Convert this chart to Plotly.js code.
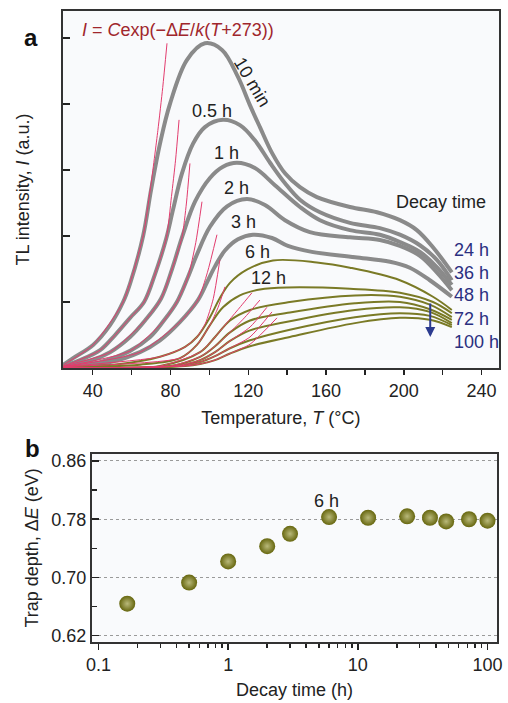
<!DOCTYPE html>
<html><head><meta charset="utf-8">
<script src="https://cdn.plot.ly/plotly-3.0.1.min.js"></script>
<style>html,body{margin:0;padding:0;background:#fff;} #chart{width:508px;height:703px;}</style>
</head><body><div id="chart"></div>
<script>
// ---------- Panel a: TL glow curves (temperature °C, intensity a.u.) ----------
const decayLabels = ['10 min','0.5 h','1 h','2 h','3 h','6 h','12 h','24 h','36 h','48 h','72 h','100 h'];

const temp_10min = [25,29.9,40.2,48.9,55.6,59.2,65.9,70,74.6,79.7,88.5,97.7,106.5,114.7,120.9,126,132.2,138.9,146.6,155.3,172.3,186.2,198,206.7,215,224.7];
const int_10min  = [0.05,0.15,0.35,0.65,1.0,1.28,2.0,2.7,3.4,4.0,4.67,4.92,4.82,4.41,3.98,3.65,3.26,2.95,2.74,2.59,2.44,2.36,2.24,2.09,1.83,1.45];
const temp_05h = [25,33.5,43.8,51.5,59.2,66.4,72,77.7,81.3,85.9,91.6,97.7,107,115.7,123.4,131.2,138.9,146.6,156.9,172.3,187.7,198,208.3,217,224.7];
const int_05h  = [0.03,0.12,0.27,0.5,0.76,1.0,1.42,1.95,2.4,2.95,3.4,3.65,3.76,3.68,3.45,3.11,2.8,2.55,2.36,2.2,2.12,2.02,1.86,1.64,1.33];
const temp_1h = [25,38.6,48.9,59.2,66.9,75.1,80.8,85.9,92.6,100.3,107,114.2,123.4,133.7,146.6,156.9,172.3,187.7,198,208.3,217,224.7];
const int_1h  = [0.03,0.11,0.24,0.47,0.72,1.05,1.5,1.98,2.52,2.88,3.05,3.11,3.03,2.77,2.44,2.24,2.09,2.02,1.91,1.76,1.53,1.26];
const temp_2h = [25,43.8,59.2,69.5,76.1,83.3,89,93.6,100.3,109.1,119.3,128.6,138.9,151.7,172.3,187.7,198,208.3,217,224.7];
const int_2h  = [0.02,0.09,0.26,0.47,0.7,1.0,1.38,1.72,2.14,2.45,2.56,2.47,2.24,2.06,1.98,1.94,1.85,1.7,1.45,1.18];
const temp_3h = [25,48.9,64.3,74.6,84.9,94.1,98.8,102.9,108,114.7,122.4,132.2,140.4,152.7,174.9,192.9,203.1,213.4,224.7];
const int_3h  = [0.02,0.09,0.24,0.42,0.7,1.03,1.3,1.54,1.78,1.95,2.02,1.97,1.85,1.76,1.68,1.61,1.52,1.33,1.08];
const temp_6h = [25,54,74.6,87.5,93.6,100.3,105.4,110.6,119.3,132.7,155.3,172.3,198,215,224.7];
const int_6h  = [0.02,0.06,0.17,0.32,0.47,0.77,1.06,1.29,1.49,1.63,1.6,1.52,1.33,1.08,0.88];
const temp_12h = [25,64.3,84.9,93.6,100.3,107,115.7,126,139.9,172.3,198,215,224.7];
const int_12h  = [0.02,0.05,0.15,0.35,0.65,0.92,1.1,1.19,1.22,1.2,1.14,1.0,0.83];
const temp_24h = [25,74.6,95.2,102.9,110.6,120.9,141.4,174.9,198,213.4,224.7];
const int_24h  = [0.0,0.03,0.24,0.47,0.72,0.88,1.0,1.1,1.08,0.96,0.77];
const temp_36h = [25,79.7,95.2,102.9,110.6,120.9,141.4,174.9,198,213.4,224.7];
const int_36h  = [0,0.03,0.17,0.33,0.54,0.72,0.84,0.98,1.0,0.89,0.73];
const temp_48h = [25,82.3,95.2,102.9,110.6,120.9,141.4,174.9,198,213.4,224.7];
const int_48h  = [0,0.03,0.12,0.24,0.41,0.57,0.71,0.88,0.92,0.85,0.68];
const temp_72h = [25,84.9,95.2,102.9,110.6,120.9,141.4,174.9,198,213.4,224.7];
const int_72h  = [0,0.03,0.09,0.18,0.3,0.42,0.58,0.77,0.83,0.79,0.65];
const temp_100h = [25,87.5,95.2,102.9,110.6,120.9,141.4,174.9,198,213.4,224.7];
const int_100h  = [0,0.03,0.06,0.12,0.22,0.33,0.47,0.68,0.76,0.73,0.62];

// initial-rise fits I = C exp(-ΔE/k(T+273))
const fitT_10min = [25,40.2,55.6,65.9,69.8,73.5,76,78.2];
const fitI_10min = [0.05,0.35,1.0,2.0,2.75,3.6,4.25,4.92];
const fitT_05h = [25,43.8,59.2,66.4,77.7,80.5,82.6,84.4];
const fitI_05h = [0.03,0.27,0.76,1.0,1.95,2.6,3.15,3.76];
const fitT_1h = [25,48.9,66.9,75.1,80.8,85.9,88.2,90.0];
const fitI_1h = [0.03,0.24,0.72,1.05,1.5,1.98,2.5,3.1];
const fitT_2h = [25,59.2,76.1,83.3,89,93,96.2];
const fitI_2h = [0.02,0.26,0.7,1.0,1.38,1.9,2.52];
const fitT_3h = [25,64.3,84.9,94.1,99,103.9];
const fitI_3h = [0.02,0.24,0.7,1.03,1.45,2.02];
const fitT_6h = [25,74.6,87.5,93.6,98,102,105.4];
const fitI_6h = [0.02,0.17,0.32,0.47,0.68,1.05,1.64];
const fitT_12h = [25,84.9,93.6,100.3,104.5,108];
const fitI_12h = [0.02,0.15,0.35,0.65,0.92,1.23];
const fitT_24h = [25,74.6,95.2,102.9,110,116,121.9];
const fitI_24h = [0,0.03,0.24,0.47,0.72,0.93,1.14];
const fitT_36h = [25,79.7,95.2,102.9,110.6,118,126];
const fitI_36h = [0,0.03,0.17,0.33,0.54,0.76,1.03];
const fitT_48h = [25,82.3,95.2,102.9,110.6,120.9,129.6];
const fitI_48h = [0,0.03,0.12,0.24,0.41,0.62,0.92];
const fitT_72h = [25,84.9,95.2,102.9,110.6,120.9,132.2];
const fitI_72h = [0,0.03,0.09,0.18,0.3,0.47,0.85];
const fitT_100h = [25,87.5,95.2,102.9,110.6,120.9,134.8];
const fitI_100h = [0,0.03,0.06,0.12,0.22,0.36,0.76];

const tempTicks = [40,80,120,160,200,240];

// ---------- Panel b: trap depth vs decay time ----------
const decayHours = [0.1667,0.5,1,2,3,6,12,24,36,48,72,100];
const trapDepth  = [0.664,0.693,0.722,0.743,0.760,0.783,0.782,0.784,0.782,0.777,0.780,0.778];
const depthTicks = [0.62,0.70,0.78,0.86];
const timeTicks = [0.1,1,10,100];

// ---------- build ----------
const FONT = '"Liberation Sans", Arial, Helvetica, sans-serif';
const GRAY = '#8a8a8a', OLIVE = '#7a7a26', RED = '#e23c6e', NAVY = '#2b2f80';

const curves = [
  [temp_10min,int_10min],[temp_05h,int_05h],[temp_1h,int_1h],[temp_2h,int_2h],[temp_3h,int_3h],
  [temp_6h,int_6h],[temp_12h,int_12h],[temp_24h,int_24h],[temp_36h,int_36h],[temp_48h,int_48h],
  [temp_72h,int_72h],[temp_100h,int_100h]];
const fits = [
  [fitT_10min,fitI_10min],[fitT_05h,fitI_05h],[fitT_1h,fitI_1h],[fitT_2h,fitI_2h],[fitT_3h,fitI_3h],
  [fitT_6h,fitI_6h],[fitT_12h,fitI_12h],[fitT_24h,fitI_24h],[fitT_36h,fitI_36h],[fitT_48h,fitI_48h],
  [fitT_72h,fitI_72h],[fitT_100h,fitI_100h]];

const traces = [];
curves.forEach((c, k) => {
  const gray = k < 5;
  traces.push({x:c[0], y:c[1], xaxis:'x', yaxis:'y', mode:'lines', name:decayLabels[k],
    line:{color: gray ? GRAY : OLIVE, width: gray ? 4 : 2, shape:'spline', smoothing:1},
    hoverinfo:'skip', showlegend:false});
});
fits.forEach((c, k) => {
  traces.push({x:c[0], y:c[1], xaxis:'x', yaxis:'y', mode:'lines', name:'fit ' + decayLabels[k],
    line:{color: RED, width: 1, shape:'spline', smoothing:0.6},
    hoverinfo:'skip', showlegend:false});
});
traces.push({x:decayHours, y:trapDepth, xaxis:'x2', yaxis:'y2', mode:'markers', showlegend:false,
  marker:{size:16, color:'#66660e', gradient:{type:'radial', color:'#b9b97a'}, line:{width:0}}});

const labelFont = {family:FONT, size:18, color:'#222'};
const navyFont = {family:FONT, size:18, color:NAVY};
const ann = [
  {xref:'x', yref:'y', x:33.5, y:5.12, xanchor:'left', text:'<i>I</i> = <i>C</i>exp(−Δ<i>E</i>/<i>k</i>(<i>T</i>+273))', showarrow:false, font:{family:FONT, size:18, color:'#a0262c'}},
  {xref:'x', yref:'y', x:121.9, y:4.33, text:decayLabels[0], textangle:59, showarrow:false, font:labelFont},
  {xref:'x', yref:'y', x:101.3, y:3.89, text:decayLabels[1], showarrow:false, font:labelFont},
  {xref:'x', yref:'y', x:109.0, y:3.26, text:decayLabels[2], showarrow:false, font:labelFont},
  {xref:'x', yref:'y', x:113.7, y:2.73, text:decayLabels[3], showarrow:false, font:labelFont},
  {xref:'x', yref:'y', x:117.8, y:2.21, text:decayLabels[4], showarrow:false, font:labelFont},
  {xref:'x', yref:'y', x:124.5, y:1.76, text:decayLabels[5], showarrow:false, font:labelFont},
  {xref:'x', yref:'y', x:130.2, y:1.36, text:decayLabels[6], showarrow:false, font:labelFont},
  {xref:'x', yref:'y', x:219.1, y:2.52, text:'Decay time', showarrow:false, font:labelFont},
  {xref:'x', yref:'y', x:224.7, y:1.79, xanchor:'left', text:decayLabels[7], showarrow:false, font:navyFont},
  {xref:'x', yref:'y', x:224.7, y:1.44, xanchor:'left', text:decayLabels[8], showarrow:false, font:navyFont},
  {xref:'x', yref:'y', x:224.7, y:1.106, xanchor:'left', text:decayLabels[9], showarrow:false, font:navyFont},
  {xref:'x', yref:'y', x:224.7, y:0.742, xanchor:'left', text:decayLabels[10], showarrow:false, font:navyFont},
  {xref:'x', yref:'y', x:224.7, y:0.394, xanchor:'left', text:decayLabels[11], showarrow:false, font:navyFont},
  {xref:'x', yref:'y', x:213.6, y:0.47, axref:'x', ayref:'y', ax:213.6, ay:1.0, text:'', showarrow:true,
    arrowhead:2, arrowsize:1, arrowwidth:2, arrowcolor:'#2c3b8f'},
  {xref:'x2', yref:'y2', x:Math.log10(5.7), y:0.8056, text:decayLabels[5], showarrow:false, font:labelFont},
  {xref:'paper', yref:'paper', x:0.0433, y:0.9687, text:'<b>a</b>', showarrow:false, font:{family:FONT, size:24, color:'#111'}},
  {xref:'paper', yref:'paper', x:0.0453, y:0.3627, text:'<b>b</b>', showarrow:false, font:{family:FONT, size:24, color:'#111'}}
];

const tickFont = {family:FONT, size:18, color:'#222'};
const layout = {
  width:508, height:703, margin:{l:0, r:0, t:0, b:0},
  paper_bgcolor:'#ffffff', plot_bgcolor:'#f9fafc',
  font:{family:FONT, size:18, color:'#222'},
  showlegend:false,
  xaxis:{domain:[0.124,0.982], range:[24.7,248.9], anchor:'y',
    tickmode:'array', tickvals:tempTicks, ticktext:tempTicks.map(String),
    ticks:'outside', ticklen:5, tickwidth:1.5, tickcolor:'#222', tickfont:tickFont,
    minor:{tickmode:'array', tickvals:[60,100,140,180,220], ticks:'outside', ticklen:5, tickwidth:1.5, tickcolor:'#222'},
    showline:true, linecolor:'#333', linewidth:2, mirror:true, showgrid:false, zeroline:false,
    title:{text:'Temperature, <i>T</i> (°C)', font:{family:FONT, size:18, color:'#222'}, standoff:12}},
  yaxis:{domain:[0.4765,0.9844], range:[0,5.41], anchor:'x',
    tickmode:'array', tickvals:[1,2,3,4,5], showticklabels:false,
    ticks:'inside', ticklen:7, tickwidth:1.5, tickcolor:'#222',
    showline:true, linecolor:'#333', linewidth:2, mirror:true, showgrid:false, zeroline:false,
    title:{text:'TL intensity, <i>I</i> (a.u.)', font:{family:FONT, size:18, color:'#222'}, standoff:27}},
  xaxis2:{type:'log', domain:[0.1811,0.9783], range:[-1.050,2.073], anchor:'y2',
    tickmode:'array', tickvals:timeTicks, ticktext:['0.1','1','10','100'],
    ticks:'outside', ticklen:6, tickwidth:1.5, tickcolor:'#222', tickfont:tickFont,
    minor:{tickmode:'array', tickvals:[0.2,0.3,0.4,0.5,0.6,0.7,0.8,0.9,2,3,4,5,6,7,8,9,20,30,40,50,60,70,80,90],
      ticks:'outside', ticklen:4, tickwidth:1.5, tickcolor:'#222'},
    showline:true, linecolor:'#333', linewidth:2, mirror:true, showgrid:false, zeroline:false,
    title:{text:'Decay time (h)', font:{family:FONT, size:18, color:'#222'}, standoff:9}},
  yaxis2:{domain:[0.0872,0.3542], range:[0.6118,0.8696], anchor:'x2',
    tickmode:'array', tickvals:depthTicks, ticktext:depthTicks.map(v => v.toFixed(2)),
    ticks:'inside', ticklen:7, tickwidth:1.5, tickcolor:'#222', tickfont:tickFont,
    minor:{tickmode:'array', tickvals:[0.66,0.74,0.82], ticks:'inside', ticklen:5, tickwidth:1.5, tickcolor:'#222', showgrid:false},
    showline:true, linecolor:'#333', linewidth:2, mirror:true,
    showgrid:true, gridcolor:'#9a9a9a', gridwidth:1, griddash:'dot', zeroline:false,
    title:{text:'Trap depth, Δ<i>E</i> (eV)', font:{family:FONT, size:18, color:'#222'}, standoff:8}},
  annotations: ann
};
Plotly.newPlot('chart', traces, layout, {staticPlot:true, displayModeBar:false});
</script></body></html>
